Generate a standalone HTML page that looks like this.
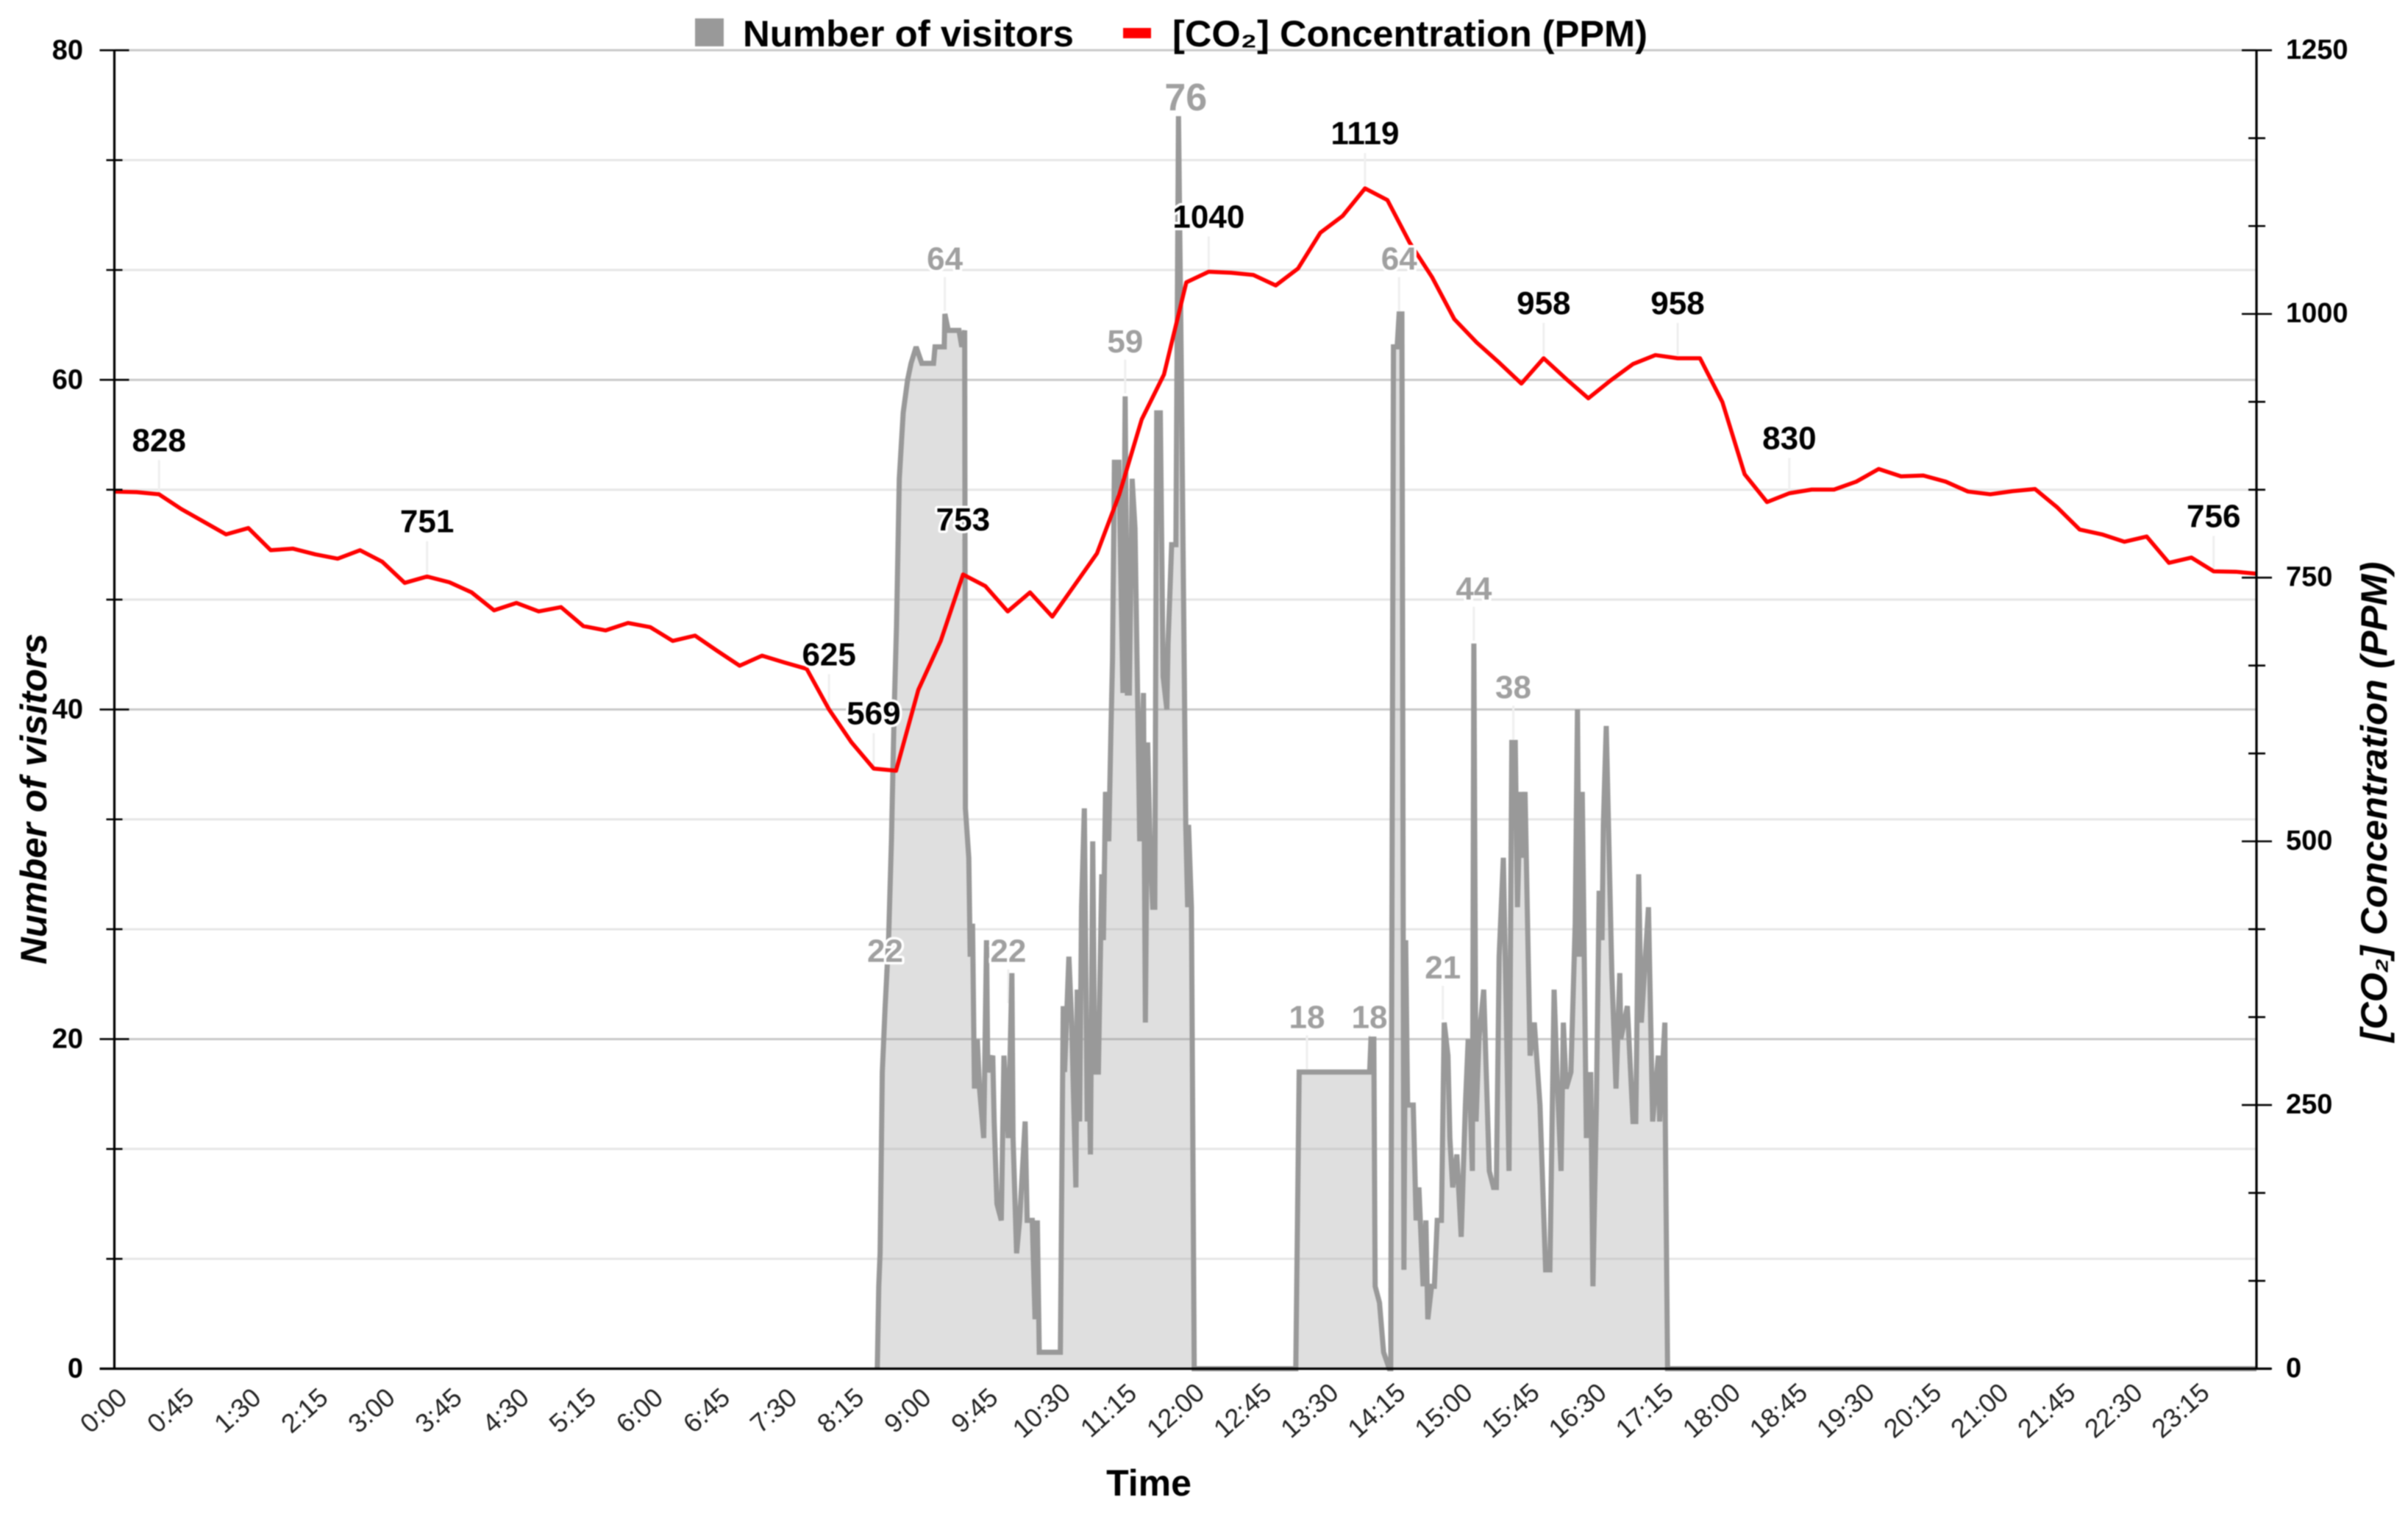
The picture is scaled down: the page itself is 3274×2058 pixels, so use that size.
<!DOCTYPE html>
<html lang="en">
<head>
<meta charset="utf-8">
<title>Number of visitors and CO2 concentration</title>
<style>
html,body{margin:0;padding:0;background:#fff;}
#chart{display:block;width:3274px;height:2058px;font-family:"Liberation Sans",Arial,sans-serif;filter:blur(0.7px);}
</style>
</head>
<body>
<svg id="chart" xmlns="http://www.w3.org/2000/svg" width="3274" height="2058" viewBox="0 0 3274 2058">
  <rect x="0" y="0" width="3274" height="2058" fill="#ffffff"/>
  <g id="grid"></g>
  <g id="leaders"></g>
  <g id="series"></g>
  <g id="axes"></g>
  <g id="labels"></g>
  <text transform="translate(63,1086) rotate(-90)" text-anchor="middle" font-size="50" font-weight="bold" font-style="italic" textLength="450" lengthAdjust="spacingAndGlyphs" fill="#000">Number of visitors</text>
  <text transform="translate(3245,1090) rotate(-90)" text-anchor="middle" font-size="50" font-weight="bold" font-style="italic" textLength="653" lengthAdjust="spacingAndGlyphs" fill="#000">[CO₂] Concentration (PPM)</text>
  <text x="1562" y="2033" text-anchor="middle" font-size="50" font-weight="bold" fill="#000">Time</text>
  <g>
    <g>
      <rect x="945" y="25" width="39" height="38" fill="#999999"/>
      <text x="1010" y="63" font-size="50" font-weight="bold" textLength="450" lengthAdjust="spacingAndGlyphs" fill="#000">Number of visitors</text>
    </g>
    <g>
      <rect x="1527" y="38" width="38" height="14" fill="#ff0000"/>
      <text x="1594" y="63" font-size="50" font-weight="bold" textLength="646" lengthAdjust="spacingAndGlyphs" fill="#000">[CO₂] Concentration (PPM)</text>
    </g>
  </g>
</svg>
<script>
// ---- chart data ----
const xTickLabels = ["0:00","0:45","1:30","2:15","3:00","3:45","4:30","5:15","6:00","6:45","7:30","8:15","9:00","9:45","10:30","11:15","12:00","12:45","13:30","14:15","15:00","15:45","16:30","17:15","18:00","18:45","19:30","20:15","21:00","21:45","22:30","23:15"];
const xTickMinutes = [0,45,90,135,180,225,270,315,360,405,450,495,540,585,630,675,720,765,810,855,900,945,990,1035,1080,1125,1170,1215,1260,1305,1350,1395];
const leftMajorTicks = [0,20,40,60,80];
const leftMinorSteps = [1,2];
const rightMajorTicks = [0,250,500,750,1000,1250];
const rightMinorSteps = [1,2];

// CO2 concentration sampled every 15 minutes
const co2SampleMinutes = 15;
const co2Values = [831.6,831,829,815,803,791,797,776,777.5,772,768,776,765,745,751,745.6,736,719,726,718,722,704,700,707,703,690,695,680.5,666.5,676,669.6,663.5,625,594,569,567,643.6,690,753,742,718,736,713,743,773,829,900,942.6,1030,1040,1039,1037,1027,1043,1077,1093,1119,1108,1067.6,1035,995,973,954,934,958,938.5,920,937,952.5,961,958,958,916.5,848,821.6,830,833.5,833.5,841,853,846,846.8,841,831.6,829,832,834,816.5,795.6,791,784,789,764,769,756,755.6,753.7];

// visitor count readings: time of reading in minutes after midnight and the count
const visitorMinutes = [512.4,513.4,514.3,515.8,517.7,520,521.9,523.8,525.3,527.2,529.8,532.8,535.1,538.5,542.3,550.2,551.2,557.4,557.8,560.1,567.3,569.2,571.1,571.4,571.6,573.9,574.8,576.4,577.7,579.6,581.1,583.9,585.8,586.6,590,590.9,592.8,595.7,597.5,600.4,602.8,603.6,606,608,611.7,613.1,616.5,618.4,619.9,621.2,635.4,637.3,638.2,641.1,643,645.8,646.7,648.3,649.6,651.5,653.4,654.3,655.6,657.1,658.5,660.9,663.2,664.3,665.7,667.9,669.4,670.4,671.7,674.7,677.4,678.9,680.4,681.7,683.6,685.5,687.4,688.7,691.2,692.5,694,695.6,697.4,698.8,700.1,702.5,704.4,706.9,707.7,710.1,713,714.7,716.7,719.6,720.9,721.5,723.4,725.3,793.5,795.8,843.1,844,845.9,846.8,849.7,852.5,856.3,857.3,859.1,861.6,862.9,864.8,866.1,867.3,868.6,872.4,874.3,876.2,879,880.9,882.2,884.7,886.6,888.5,891.3,893.2,895.7,897,898.9,901.7,904.6,907.4,909.3,912.1,913.1,914.6,916.5,919.7,923.5,926.3,928.2,930.1,932.9,934.8,936.7,938.6,940.9,942.4,944.3,945.2,947.5,950.9,953.7,957.5,961.3,964.2,967,968.9,971.7,973.2,975.1,978.3,981.2,982.7,984,985.9,988.7,991.6,993.1,995.4,997.3,999.2,1000.1,1002,1005.8,1008.6,1011.1,1011.8,1016.2,1020,1021.9,1023.8,1025.6,1030.4,1033.2,1037,1037.9,1041.4,1041.7,1043.2,1440];
const visitorCounts = [0,5,7,18,22,26,32,40,45,54,58,60,61,62,61,61,62,62,64,63,63,62,63,47,34,31,25,27,17,20,17,14,26,18,19,15,10,9,19,14,24,14,7,9,15,9,9,3,9,1,1,22,18,25,21,11,23,15,28,34,15,21,13,32,18,18,30,26,35,32,39,43,55,55,41,59,41,41,54,51,40,32,41,21,38,32,28,28,58,58,42,40,44,50,50,76,60,33,28,33,28,0,0,18,18,20,20,5,4,1,0,0,62,62,64,64,6,26,16,16,9,11,5,9,3,5,5,9,9,21,19,14,11,13,8,16,20,12,44,15,20,23,12,11,11,25,31,22,12,38,38,28,35,31,35,19,21,16,6,6,23,18,12,21,17,18,27,40,25,35,14,18,5,16,29,26,33,39,24,17,24,20,22,15,15,30,21,28,15,19,15,21,15,0,0];

// annotated CO2 values
const co2LabelIndexes = [2,14,32,34,38,49,56,64,70,75,94];
const co2LabelValues = [828,751,625,569,753,1040,1119,958,958,830,756];

// annotated visitor values
const visitorLabelMinutes = [517.7,557.8,600.4,678.9,714.7,801,843,862.9,892.3,913.1,939.6];
const visitorLabelValues = [22,64,22,59,76,18,18,64,21,44,38];

// ---- axis functions ----
const plotLeft = 155.5, plotRight = 3068, plotTop = 68.3, plotBottom = 1860.5;
const dayMinutes = 1440, leftMax = 80, rightMax = 1250, xSpan = 2915;
function xAt(minute){ return Math.min(plotRight, plotLeft + minute / dayMinutes * xSpan); }
function yLeft(v){ return plotBottom - v / leftMax * (plotBottom - plotTop); }
function yRight(v){ return plotBottom - v / rightMax * (plotBottom - plotTop); }

const NS = 'http://www.w3.org/2000/svg';
function make(tag, parentId, attrs, text){
  const node = document.createElementNS(NS, tag);
  for (const k in attrs) node.setAttribute(k, attrs[k]);
  if (text !== undefined) node.textContent = text;
  document.getElementById(parentId).appendChild(node);
  return node;
}
let el;

// gridlines (left axis only)
leftMajorTicks.forEach(function(t, i){
  el = make('line','grid',{x1:plotLeft,x2:plotRight,y1:yLeft(t),y2:yLeft(t),stroke:'#c9c9c9','stroke-width':3});
  
  
  if (i < leftMajorTicks.length - 1) {
    leftMinorSteps.forEach(function(s){
      const v = t + s * (leftMajorTicks[i+1] - t) / (leftMinorSteps.length + 1);
      el = make('line','grid',{x1:plotLeft,x2:plotRight,y1:yLeft(v),y2:yLeft(v),stroke:'#e6e6e6','stroke-width':3});
      
      
    });
  }
});

// visitors area + line
const visitorPoints = visitorMinutes.map(function(m, i){ return xAt(m).toFixed(1) + ',' + yLeft(visitorCounts[i]).toFixed(1); });
el = make('path','series',{d:'M' + xAt(visitorMinutes[0]).toFixed(1) + ',' + yLeft(0) + ' L' + visitorPoints.join(' L') + ' L' + xAt(visitorMinutes[visitorMinutes.length-1]).toFixed(1) + ',' + yLeft(0) + ' Z',fill:'#999999','fill-opacity':0.31,stroke:'none'});


el = make('path','series',{d:'M' + visitorPoints.join(' L'),fill:'none',stroke:'#999999','stroke-width':7,'stroke-linejoin':'miter','stroke-miterlimit':2});



// CO2 line
el = make('path','series',{d:'M' + co2Values.map(function(v, i){ return xAt(i * co2SampleMinutes).toFixed(1) + ',' + yRight(v).toFixed(1); }).join(' L'),fill:'none',stroke:'#ff0000','stroke-width':5.5,'stroke-linejoin':'round'});



// axes
el = make('line','axes',{x1:plotLeft,x2:plotLeft,y1:plotTop,y2:plotBottom,stroke:'#000','stroke-width':3.2});


el = make('line','axes',{x1:plotRight,x2:plotRight,y1:plotTop,y2:plotBottom,stroke:'#000','stroke-width':3.2});


el = make('line','axes',{x1:plotLeft-20,x2:plotRight+20,y1:plotBottom,y2:plotBottom,stroke:'#000','stroke-width':3.2});



leftMajorTicks.forEach(function(t, i){
  el = make('line','axes',{x1:plotLeft-20,x2:plotLeft+20,y1:yLeft(t),y2:yLeft(t),stroke:'#000','stroke-width':2.6});
  
  
  el = make('text','axes',{x:113,y:yLeft(t)+12,'text-anchor':'end','font-size':38,'font-weight':'bold',fill:'#000'}, String(t));
  
  
  if (i < leftMajorTicks.length - 1) {
    leftMinorSteps.forEach(function(s){
      const v = t + s * (leftMajorTicks[i+1] - t) / (leftMinorSteps.length + 1);
      el = make('line','axes',{x1:plotLeft-11,x2:plotLeft+11,y1:yLeft(v),y2:yLeft(v),stroke:'#000','stroke-width':2.6});
      
      
    });
  }
});
rightMajorTicks.forEach(function(t, i){
  el = make('line','axes',{x1:plotRight-20,x2:plotRight+21,y1:yRight(t),y2:yRight(t),stroke:'#000','stroke-width':2.6});
  
  
  el = make('text','axes',{x:3108,y:yRight(t)+11.5,'text-anchor':'start','font-size':38,'font-weight':'bold',fill:'#000'}, String(t));
  
  
  if (i < rightMajorTicks.length - 1) {
    rightMinorSteps.forEach(function(s){
      const v = t + s * (rightMajorTicks[i+1] - t) / (rightMinorSteps.length + 1);
      el = make('line','axes',{x1:plotRight-11,x2:plotRight+12,y1:yRight(v),y2:yRight(v),stroke:'#000','stroke-width':2.6});
      
      
    });
  }
});
xTickLabels.forEach(function(label, i){
  const cx = xAt(xTickMinutes[i]) - 15, cy = 1917;
  el = make('text','axes',{x:cx,y:cy,dy:'0.35em','text-anchor':'middle','font-size':36,fill:'#222',transform:'rotate(-42 ' + cx + ' ' + cy + ')'}, label);
  
  
});

// CO2 annotations
co2LabelIndexes.forEach(function(idx, i){
  const x = xAt(idx * co2SampleMinutes), py = yRight(co2LabelValues[i]);
  el = make('line','leaders',{x1:x,x2:x,y1:py-48,y2:py-4,stroke:'#efefef','stroke-width':3});
  
  
  el = make('text','labels',{x:x,y:py-60,'text-anchor':'middle','font-size':44,'font-weight':'bold',fill:'#000',stroke:'#fff','stroke-width':7,'paint-order':'stroke','stroke-linejoin':'round'}, String(co2LabelValues[i]));
  
  
});

// visitor annotations
const visitorPeak = Math.max.apply(null, visitorCounts);
visitorLabelMinutes.forEach(function(m, i){
  const v = visitorLabelValues[i], x = xAt(m), py = yLeft(v), isPeak = v === visitorPeak;
  if (!isPeak) {
    el = make('line','leaders',{x1:x,x2:x,y1:py-50,y2:py-4,stroke:'#efefef','stroke-width':3});
    
    
  }
  el = make('text','labels',{x:isPeak ? x + 10 : x,y:isPeak ? py - 8 : py - 60,'text-anchor':'middle','font-size':isPeak ? 52 : 44,'font-weight':'bold',fill:'#a0a0a0',stroke:'#fff','stroke-width':7,'paint-order':'stroke','stroke-linejoin':'round'}, String(v));
  
  
});
</script>
</body>
</html>
